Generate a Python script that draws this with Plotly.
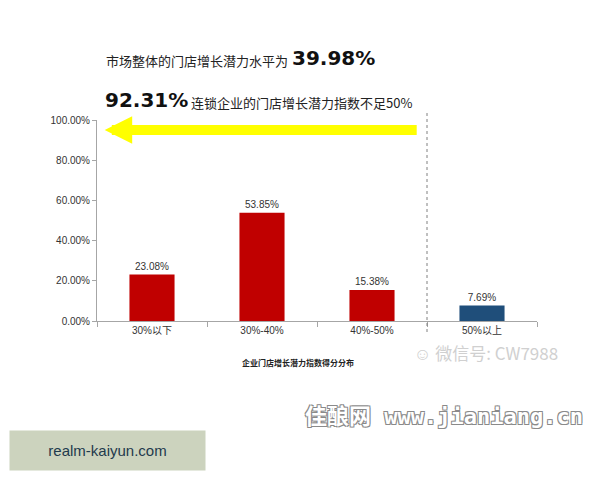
import plotly.graph_objects as go

categories = ["30%以下", "30%-40%", "40%-50%", "50%以上"]
values = [0.2308, 0.5385, 0.1538, 0.0769]
bar_colors = ["#c00000", "#c00000", "#c00000", "#1f4e7a"]
y_ticks = [0, 0.2, 0.4, 0.6, 0.8, 1.0]

cjk = "Noto Sans CJK SC"
fig = go.Figure()
fig.add_trace(go.Bar(
    x=categories, y=values, marker=dict(color=bar_colors, line=dict(width=0)),
    width=0.41, texttemplate="%{y:.2%}", textposition="outside",
    textfont=dict(family="Liberation Sans, Arial", size=10, color="#333333"),
    cliponaxis=False, hoverinfo="skip",
))

OFF = 8  # page body margin
W, H = 592, 472
L, T = 97 - OFF, 120 - OFF
R = W - (537 - OFF)
B = H - (321 - OFF)
pw, ph = W - L - R, H - T - B

def px(xp):
    return (xp - OFF - L) / pw

def py(yp):
    return (H - B - (yp - OFF)) / ph

fig.update_layout(
    width=W, height=H, margin=dict(l=L, r=R, t=T, b=B),
    paper_bgcolor="white", plot_bgcolor="white", showlegend=False,
    xaxis=dict(showline=True, linecolor="#a6a6a6", linewidth=1, ticks="outside",
               tickson="boundaries", ticklen=5, tickcolor="#a6a6a6",
               tickfont=dict(family="Liberation Sans, " + cjk, size=10, color="#333333"),
               showgrid=False, range=[-0.5, 3.5]),
    yaxis=dict(range=[0, 1.0], tickvals=y_ticks, tickformat=".2%", showline=True,
               linecolor="#a6a6a6", linewidth=1, ticks="outside", ticklen=4,
               tickcolor="#a6a6a6", showgrid=False, zeroline=False,
               tickfont=dict(family="Liberation Sans, Arial", size=10, color="#333333")),
)

# vertical dotted divider between 40%-50% and 50%以上
fig.add_shape(type="line", xref="x", yref="paper", x0=2.5, x1=2.5, y0=py(332), y1=py(110),
              line=dict(color="#808080", width=1, dash="dot"))

# yellow arrow
fig.add_annotation(x=-0.43, y=0.95, ax=2.42, ay=0.95, xref="x", yref="y", axref="x", ayref="y",
                   showarrow=True, arrowhead=2, arrowsize=0.55, arrowwidth=10, arrowcolor="#ffff00",
                   text="")

# headline texts
fig.add_annotation(xref="paper", yref="paper", x=px(104), y=py(60), xanchor="left", yanchor="middle",
                   text="市场整体的门店增长潜力水平为", showarrow=False,
                   font=dict(family=cjk, size=13, color="#222222"))
fig.add_annotation(xref="paper", yref="paper", x=px(290), y=py(58), xanchor="left", yanchor="middle",
                   text="<b>39.98%</b>", showarrow=False,
                   font=dict(family="DejaVu Sans", size=20, color="#111111"))
fig.add_annotation(xref="paper", yref="paper", x=px(103), y=py(100), xanchor="left", yanchor="middle",
                   text="<b>92.31%</b>", showarrow=False,
                   font=dict(family="DejaVu Sans", size=20, color="#111111"))
fig.add_annotation(xref="paper", yref="paper", x=px(189), y=py(102), xanchor="left", yanchor="middle",
                   text="连锁企业的门店增长潜力指数不足50%", showarrow=False,
                   font=dict(family=cjk, size=13, color="#222222"))

# axis title
fig.add_annotation(xref="paper", yref="paper", x=px(298), y=py(362), xanchor="center", yanchor="middle",
                   text="<b>企业门店增长潜力指数得分分布</b>", showarrow=False,
                   font=dict(family=cjk, size=8, color="#222222"))

# watermarks
fig.add_annotation(xref="paper", yref="paper", x=px(486), y=py(352), xanchor="center", yanchor="middle",
                   text="☺ 微信号: CW7988", showarrow=False,
                   font=dict(family=cjk, size=17, color="#d0d0d0"))
fig.add_annotation(xref="paper", yref="paper", x=px(444), y=py(416), xanchor="center", yanchor="middle",
                   text="<b>佳酿网 www.jianiang.cn</b>", showarrow=False,
                   font=dict(family="DejaVu Sans Mono, " + cjk, size=22, color="#ffffff",
                             shadow="1px 1px 0 #8a8a8a, -1px -1px 0 #8a8a8a, 1px -1px 0 #8a8a8a, -1px 1px 0 #8a8a8a"))
fig.add_annotation(xref="paper", yref="paper", x=px(107.5), y=py(450.5), xanchor="center", yanchor="middle",
                   text="realm-kaiyun.com", showarrow=False, width=189, height=33,
                   bgcolor="#ccd3be", borderpad=3,
                   font=dict(family="Liberation Sans, Arial", size=15, color="#1f3a4d"))

fig.write_html("out.html")
